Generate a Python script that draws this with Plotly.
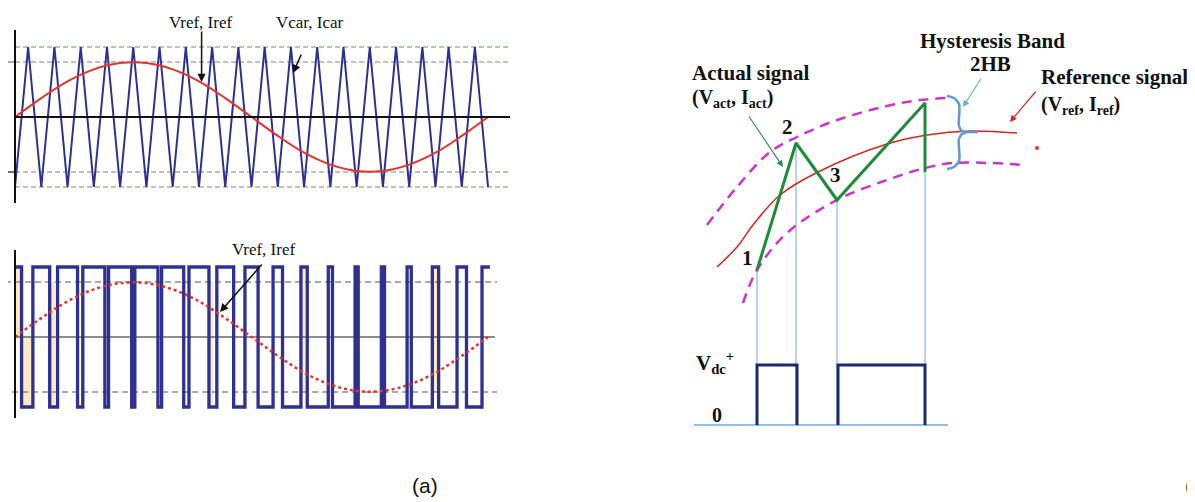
import plotly.graph_objects as go

# ---------------- data : panel (a) ----------------
# time in carrier periods, values normalised to the carrier amplitude
carrier_t = [0, 0.5, 1, 1.5, 2, 2.5, 3, 3.5, 4, 4.5, 5, 5.5, 6, 6.5, 7, 7.5, 8, 8.5, 9,
             9.5, 10, 10.5, 11, 11.5, 12, 12.5, 13, 13.5, 14, 14.5, 15, 15.5, 16, 16.5,
             17, 17.5, 18]
carrier_v = [-1, 1, -1, 1, -1, 1, -1, 1, -1, 1, -1, 1, -1, 1, -1, 1, -1, 1, -1,
             1, -1, 1, -1, 1, -1, 1, -1, 1, -1, 1, -1, 1, -1, 1, -1, 1, -1]
ref_t = [0, 1, 2, 3, 4, 5, 6, 7, 8, 9, 10, 11, 12, 13, 14, 15, 16, 17, 18]
ref_v = [0, 0.27, 0.51, 0.68, 0.77, 0.77, 0.68, 0.51, 0.27, 0, -0.27, -0.51, -0.68,
         -0.77, -0.77, -0.68, -0.51, -0.27, 0]
pwm_t = [0, 0.25, 0.68, 1.32, 1.62, 2.38, 2.58, 3.42, 3.56, 4.44, 4.56, 5.44, 5.58,
         6.42, 6.62, 7.38, 7.68, 8.32, 8.75, 9.25, 9.82, 10.18, 10.88, 11.12, 11.92,
         12.08, 12.94, 13.06, 13.94, 14.06, 14.92, 15.08, 15.88, 16.12, 16.82, 17.18,
         17.77, 18.07]
pwm_v = [1, -1, 1, -1, 1, -1, 1, -1, 1, -1, 1, -1, 1, -1, 1, -1, 1, -1, 1, -1, 1, -1,
         1, -1, 1, -1, 1, -1, 1, -1, 1, -1, 1, -1, 1, -1, 1, 1]
# faint highlighted strips in the PWM panel
strip_t0 = [0.0, 0.25, 1.33, 7.35, 10.92, 15.9]
strip_t1 = [0.25, 0.63, 1.52, 7.53, 11.04, 16.06]
strip_v0 = [0, -1, -1, -1, -0.786, -0.786]
strip_v1 = [1, 0, 0.786, 0.786, 1, 1]
ref_level = 0.786
t_end_top = 18.76
t_end_bot = 18.34

# ---------------- data : panel (b) ----------------
refb_u = [47, 67, 83, 110, 148, 217, 257, 300, 347]
refb_v = [158, 178, 200, 230, 253, 281, 290, 294, 292]
upper_u = [37, 67, 100, 127, 167, 217, 250, 278]
upper_v = [200, 238, 273, 288, 305, 319, 325, 327]
lower_u = [73, 87, 117, 167, 217, 255, 283, 320, 355]
lower_v = [122, 155, 192, 225, 245, 257, 262, 262, 260]
act_u = [87, 126, 167, 255, 255]
act_v = [155, 282, 225, 322, 253]
drop_u = [87, 126, 167, 255]
drop_top = [155, 282, 225, 253]
pulse1_u = [87, 87, 127, 127]
pulse2_u = [168, 168, 255, 255]
pulse_v = [0, 60, 60, 0]
base_u = [24, 278]
brace_u = [277, 284, 289, 289, 292, 296]
brace_v = [329, 327, 321, 299, 294, 293]
brace_l_u = [296, 292, 289, 289, 284, 277]
brace_l_v = [292, 291, 286, 264, 258, 256]
brace_tip_u = [296, 308]
brace_tip_v = [293, 293]
dot_u = [367]
dot_v = [277]

BLUE = "#2E3192"
RED = "#E8322B"
DASH = "#8A7F6C"
SERIF = "Liberation Serif"

# figure is drawn 8 px inside the page (default body margin)
W, H, OFF = 1187, 494, 8
def px(p):
    return (p - OFF) / W
def py(p):
    return 1 - (p - OFF) / H

fig = go.Figure()

def line(x, y, color, width, xa="x", ya="y", dash=None, shape="linear"):
    fig.add_trace(go.Scatter(x=x, y=y, mode="lines", xaxis=xa, yaxis=ya,
                             line=dict(color=color, width=width, dash=dash, shape=shape),
                             hoverinfo="skip", showlegend=False))

# ---- panel (a) top ----
for lv in [1, ref_level, -ref_level, -1]:
    line([0, t_end_top], [lv, lv], DASH, 1.2, dash="5px,3px")
line([-0.38, 0], [ref_level, ref_level], DASH, 1.3)
line([-0.38, 0], [-ref_level, -ref_level], "#222", 1.3)
line(carrier_t, carrier_v, BLUE, 2)
line(ref_t, ref_v, RED, 2, shape="spline")
line([0, 18.84], [0, 0], "#111", 2)
line([0, 0], [1.243, -1.229], "#111", 2)

# ---- panel (a) bottom ----
for a, b, c, d in zip(strip_t0, strip_t1, strip_v0, strip_v1):
    fig.add_trace(go.Scatter(x=[a, b, b, a, a], y=[c, c, d, d, c], xaxis="x2", yaxis="y2",
                             mode="lines", fill="toself", fillcolor="#FBEAC2",
                             line=dict(width=0), hoverinfo="skip", showlegend=False))
line([-0.38, t_end_bot], [ref_level, ref_level], "#555", 1.2, "x2", "y2", dash="6px,4px")
line([-0.11, t_end_bot], [-ref_level, -ref_level], "#555", 1.2, "x2", "y2", dash="6px,4px")
line([0, 18.26], [0, 0], "#666", 1.5, "x2", "y2")
line(pwm_t, pwm_v, BLUE, 3.3, "x2", "y2", shape="hv")
line(ref_t, ref_v, RED, 2.5, "x2", "y2", dash="dot", shape="spline")
line([0, 0], [1.243, -1.157], "#111", 2, "x2", "y2")

# ---- panel (b) ----
LB = "#6FA8DC"
line(base_u, [0, 0], LB, 1.5, "x3", "y3")
for u, top in zip(drop_u, drop_top):
    line([u, u], [0, top], LB, 1, "x3", "y3")
line(upper_u, upper_v, "#CC33CC", 2.5, "x3", "y3", dash="10px,7px", shape="spline")
line(lower_u, lower_v, "#CC33CC", 2.5, "x3", "y3", dash="10px,7px", shape="spline")
line(refb_u, refb_v, "#D7261E", 1.5, "x3", "y3", shape="spline")
line(act_u, act_v, "#1E8B3A", 3, "x3", "y3")
line(pulse1_u, pulse_v, "#1B2A6B", 3, "x3", "y3")
line(pulse2_u, pulse_v, "#1B2A6B", 3, "x3", "y3")
line(brace_u, brace_v, "#5B9BD5", 2.5, "x3", "y3", shape="spline")
line(brace_l_u, brace_l_v, "#5B9BD5", 2.5, "x3", "y3", shape="spline")
line(brace_tip_u, brace_tip_v, "#5B9BD5", 2.5, "x3", "y3")
fig.add_trace(go.Scatter(x=dot_u, y=dot_v, mode="markers", xaxis="x3", yaxis="y3",
                         marker=dict(color="#E8322B", size=4), hoverinfo="skip",
                         showlegend=False))

ann = []
def text(x, y, s, size, xref, yref, xanchor="center", bold=False, font=SERIF, color="#111"):
    ann.append(dict(x=x, y=y, xref=xref, yref=yref, text=f"<b>{s}</b>" if bold else s,
                    showarrow=False, xanchor=xanchor, yanchor="middle",
                    font=dict(family=font, size=size, color=color)))

def arrow(x, y, ax, ay, xref, yref, color, width=1.3):
    ann.append(dict(x=x, y=y, ax=ax, ay=ay, xref=xref, yref=yref, axref=xref, ayref=yref,
                    text="", showarrow=True, arrowhead=2, arrowsize=1.1,
                    arrowwidth=width, arrowcolor=color, standoff=0, startstandoff=0))

text(7.04, 1.343, "Vref, Iref", 17, "x", "y")
arrow(7.1, 0.5, 7.1, 1.243, "x", "y", "#111", 1.5)
text(11.22, 1.343, "Vcar, Icar", 17, "x", "y")
arrow(10.58, 0.629, 10.92, 0.914, "x", "y", "#111", 1.5)
text(9.44, 1.257, "Vref, Iref", 17, "x2", "y2")
arrow(7.80, 0.357, 9.44, 1.057, "x2", "y2", "#111", 1.5)

text(322, 384, "Hysteresis Band", 21, "x3", "y3", bold=True)
text(320, 361, "2HB", 21, "x3", "y3", bold=True)
text(20, 352, "Actual signal", 21, "x3", "y3", xanchor="left", bold=True)
text(20, 327, "(V<sub>act</sub>, I<sub>act</sub>)", 20, "x3", "y3", xanchor="left", bold=True)
text(369, 348, "Reference signal", 21, "x3", "y3", xanchor="left", bold=True)
text(369, 320, "(V<sub>ref</sub>, I<sub>ref</sub>)", 20, "x3", "y3", xanchor="left", bold=True)
text(77, 167, "1", 21, "x3", "y3", bold=True)
text(117, 298, "2", 21, "x3", "y3", bold=True)
text(165, 250, "3", 21, "x3", "y3", bold=True)
text(45, 63, "V<sub>dc</sub><sup>+</sup>", 21, "x3", "y3", bold=True)
text(47, 10, "0", 20, "x3", "y3", bold=True)
arrow(113, 258, 78, 310, "x3", "y3", "#2E8B57", 1.2)
arrow(293, 318, 312, 348, "x3", "y3", "#6FA8DC", 1.2)
arrow(340, 303, 367, 335, "x3", "y3", "#D7261E", 1.2)

text(px(425), py(485), "(a)", 21, "paper", "paper", font="Liberation Sans")
text(px(1194), py(485), "(", 21, "paper", "paper", xanchor="right", font="Liberation Sans")

hidden = dict(visible=False, showgrid=False, zeroline=False, fixedrange=True)
fig.update_layout(
    width=W, height=H, autosize=False,
    margin=dict(l=0, r=0, t=0, b=0),
    paper_bgcolor="white", plot_bgcolor="white",
    showlegend=False, annotations=ann,
    xaxis=dict(domain=[0, px(520)], range=[-0.2664, 19.216], anchor="y", **hidden),
    yaxis=dict(domain=[py(230), 1], range=[-1.6143, 1.5571], anchor="x", **hidden),
    xaxis2=dict(domain=[0, px(520)], range=[-0.2664, 19.216], anchor="y2", **hidden),
    yaxis2=dict(domain=[0, py(230)], range=[-2.3571, 1.5286], anchor="x2", **hidden),
    xaxis3=dict(domain=[px(670), 1], range=[0, 525], anchor="y3", **hidden),
    yaxis3=dict(domain=[0, 1], range=[-77, 417], anchor="x3", **hidden),
)

fig.write_html("out.html")
